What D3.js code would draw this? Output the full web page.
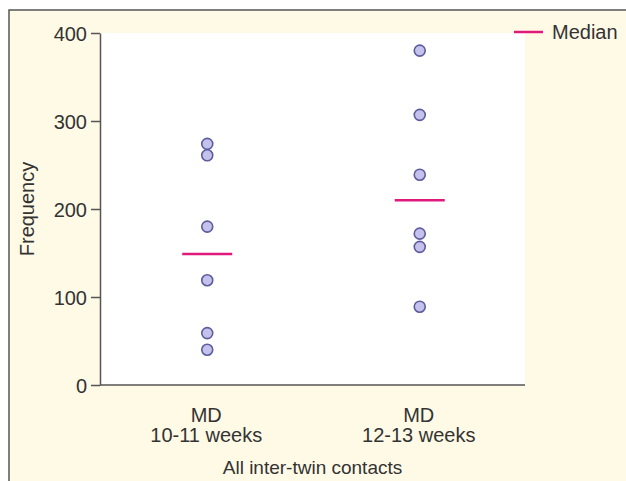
<!DOCTYPE html>
<html>
<head>
<meta charset="utf-8">
<script src="https://cdnjs.cloudflare.com/ajax/libs/d3/7.8.5/d3.min.js"></script>
<style>
  body { margin: 0; background: #fff; }
  svg text { font-family: "Liberation Sans", Arial, sans-serif; fill: #333; }
</style>
</head>
<body>
<svg class="chart"></svg>
<script>
var width = 626;
var height = 481;

// data
var groups = ['g1', 'g2'];
var groupLabels = [['MD', '10-11 weeks'], ['MD', '12-13 weeks']];
var group1Values = [274, 261, 180, 119, 59, 40];
var group2Values = [380, 307, 239, 172, 157, 89];
var medians = [149, 210];
var yTicks = [0, 100, 200, 300, 400];

var margin = {'top': 33, 'right': 101, 'bottom': 96, 'left': 100};

var chart = d3.select('.chart')
    .attr('width', width)
    .attr('height', height);

// cream panel with a border on top and left only
chart.append('rect')
  .attr('x', 9).attr('y', 10)
  .attr('width', width - 9).attr('height', height - 10)
  .attr('fill', '#fefae6');
chart.append('path')
  .attr('d', 'M9,' + height + 'V10H' + width)
  .attr('fill', 'none')
  .attr('stroke', '#555')
  .attr('stroke-width', 1.5);

var x = d3.scaleBand()
  .domain(groups)
  .range([margin.left, width - margin.right])
  .padding(0);

var y = d3.scaleLinear()
  .domain([0, 400])
  .range([height - margin.bottom, margin.top]);

// white plotting area
chart.append('rect')
  .attr('x', margin.left)
  .attr('y', margin.top)
  .attr('width', width - margin.left - margin.right)
  .attr('height', height - margin.top - margin.bottom)
  .attr('fill', '#fff');

// y axis
var yAxis = chart.append('g')
  .attr('transform', 'translate(' + margin.left + ',0)')
  .call(d3.axisLeft(y).tickValues(yTicks).tickSize(9).tickPadding(4).tickSizeOuter(0));
yAxis.selectAll('text').style('font-size', '20px').attr('dy', '0.35em');
yAxis.selectAll('line, path').attr('stroke', '#555').attr('stroke-width', 1.5);

// x axis baseline
chart.append('line')
  .attr('x1', margin.left).attr('x2', width - margin.right)
  .attr('y1', y(0)).attr('y2', y(0))
  .attr('stroke', '#555').attr('stroke-width', 1.5);

// category labels
var cat = chart.append('g').selectAll('text')
  .data(groups)
  .join('text')
    .attr('text-anchor', 'middle')
    .attr('x', function(d){ return x(d) + x.bandwidth() / 2; })
    .attr('y', y(0) + 37)
    .style('font-size', '20px');
cat.each(function(d, i){
  var t = d3.select(this);
  groupLabels[i].forEach(function(line, j){
    t.append('tspan')
      .attr('x', x(d) + x.bandwidth() / 2)
      .attr('dy', j === 0 ? 0 : 20)
      .text(line);
  });
});

// axis titles
chart.append('text')
  .attr('text-anchor', 'middle')
  .attr('x', (margin.left + width - margin.right) / 2)
  .attr('y', 474)
  .style('font-size', '19px')
  .text('All inter-twin contacts');

chart.append('text')
  .attr('text-anchor', 'middle')
  .attr('transform', 'translate(34,' + ((y(0) + y(400)) / 2) + ') rotate(-90)')
  .style('font-size', '20px')
  .text('Frequency');

// points
var pointData = [];
group1Values.forEach(function(v){ pointData.push({'group': 'g1', 'value': v}); });
group2Values.forEach(function(v){ pointData.push({'group': 'g2', 'value': v}); });

chart.append('g')
  .selectAll('circle')
  .data(pointData)
  .join('circle')
    .attr('cx', function(d){ return x(d.group) + x.bandwidth() / 2 + 1; })
    .attr('cy', function(d){ return y(d.value); })
    .attr('r', 5.5)
    .attr('fill', '#c4c2ec')
    .attr('stroke', '#5d5c9c')
    .attr('stroke-width', 1.6);

// medians
chart.append('g')
  .selectAll('line')
  .data(medians)
  .join('line')
    .attr('x1', function(d, i){ return x(groups[i]) + x.bandwidth() / 2 - 24; })
    .attr('x2', function(d, i){ return x(groups[i]) + x.bandwidth() / 2 + 26; })
    .attr('y1', function(d){ return y(d); })
    .attr('y2', function(d){ return y(d); })
    .attr('stroke', '#e0197d')
    .attr('stroke-width', 2.5);

// legend
chart.append('line')
  .attr('x1', 514).attr('x2', 543)
  .attr('y1', 32).attr('y2', 32)
  .attr('stroke', '#e0197d')
  .attr('stroke-width', 2.5);
chart.append('text')
  .attr('x', 552).attr('y', 39)
  .style('font-size', '20px')
  .text('Median');
</script>
</body>
</html>
